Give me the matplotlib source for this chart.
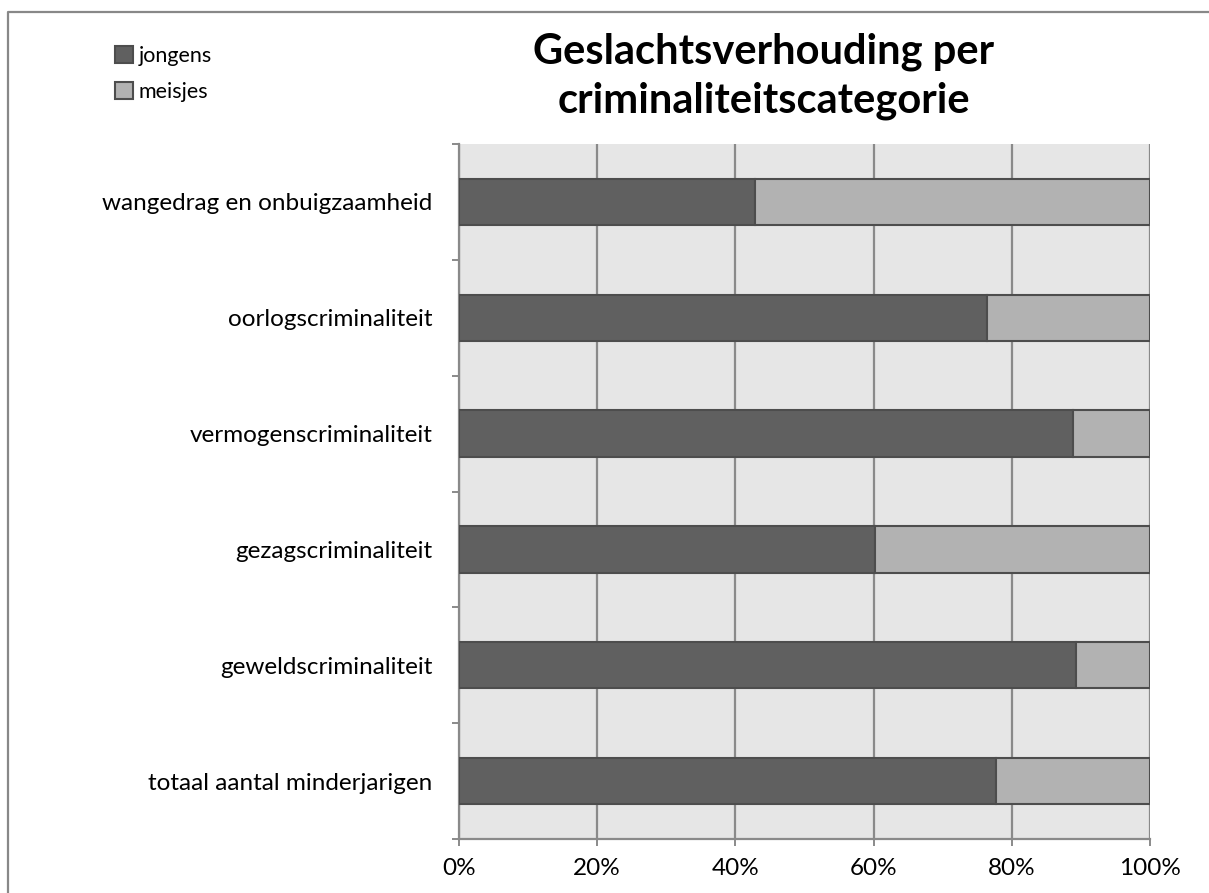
import numpy as np
import matplotlib.pyplot as plt
from matplotlib.lines import Line2D
from matplotlib.ticker import FixedLocator, PercentFormatter

plt.rcParams['font.family'] = ['Lato', 'DejaVu Sans']

# categories from bottom to top
categories = ["totaal aantal minderjarigen", "geweldscriminaliteit", "gezagscriminaliteit",
              "vermogenscriminaliteit", "oorlogscriminaliteit", "wangedrag en onbuigzaamheid"]
jongens = [77.7, 89.3, 60.2, 88.9, 76.4, 42.8]
meisjes = [100 - v for v in jongens]
xticks = [0, 20, 40, 60, 80, 100]

fig = plt.figure(figsize=(12.09, 8.93), dpi=100)
ax = fig.add_axes([459 / 1209, 1 - 839 / 893, 691 / 1209, 695 / 893])
ax.set_facecolor("#e6e6e6")

y = np.arange(len(categories))
ax.barh(y, jongens, height=0.4, color="#606060", edgecolor="#4d4d4d", linewidth=1.5,
        label="jongens", zorder=3)
ax.barh(y, meisjes, left=jongens, height=0.4, color="#b2b2b2", edgecolor="#4d4d4d",
        linewidth=1.5, label="meisjes", zorder=3)

ax.set_xlim(0, 100)
ax.set_ylim(-0.5, len(categories) - 0.5)
ax.set_xticks(xticks)
ax.xaxis.set_major_formatter(PercentFormatter(decimals=0))
ax.set_yticks(y)
ax.set_yticklabels(categories)
ax.yaxis.set_minor_locator(FixedLocator(np.arange(len(categories) + 1) - 0.5))

ax.grid(axis="x", color="#8a8a8a", linewidth=1.6, zorder=1)
ax.tick_params(axis="y", which="major", length=0, pad=19, labelsize=17.5)
ax.tick_params(axis="y", which="minor", length=5, width=1.4, color="#8a8a8a", direction="out")
ax.tick_params(axis="x", length=5, width=1.4, color="#8a8a8a", direction="out", pad=9,
               labelsize=17.5)

for side in ["top", "right"]:
    ax.spines[side].set_visible(False)
for side in ["left", "bottom"]:
    ax.spines[side].set_color("#8a8a8a")
    ax.spines[side].set_linewidth(1.6)

# outer chart frame
fig.add_artist(Line2D([8 / 1209, 8 / 1209, 1.0], [0.0, 1 - 12 / 893, 1 - 12 / 893],
                      color="#888888", linewidth=1.6, transform=fig.transFigure))

fig.text(764 / 1209, 1 - 76 / 893, "Geslachtsverhouding per\ncriminaliteitscategorie",
         ha="center", va="center", fontsize=30, fontweight="bold", linespacing=1.35)

fig.legend(loc="upper left", bbox_to_anchor=(106 / 1209, 1 - 37 / 893), frameon=False,
           fontsize=15.5, handlelength=0.85, handleheight=0.85, handletextpad=0.25,
           labelspacing=0.75, borderaxespad=0)

fig.savefig("out.png", dpi=100)
